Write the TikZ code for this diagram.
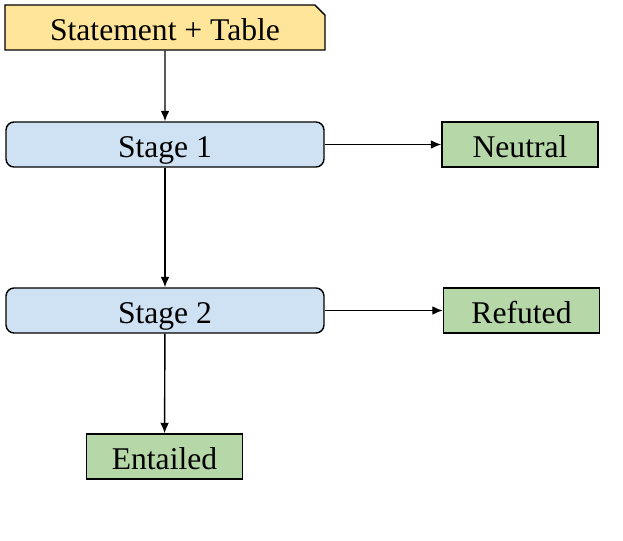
\documentclass[tikz,border=0pt]{standalone}
\usepackage{fontspec}
\setmainfont{Liberation Serif}
\usetikzlibrary{arrows.meta,shapes.misc}

\definecolor{inputyellow}{HTML}{FFE599}
\definecolor{stageblue}{HTML}{CFE2F3}
\definecolor{labelgreen}{HTML}{B6D7A8}

\begin{document}
\begin{tikzpicture}[
  x=0.02cm, y=-0.02cm,
  >={Latex[length=6pt,width=5pt]},
  box/.style={draw=black,line width=0.8pt,inner sep=0pt,font=\fontsize{18}{21}\selectfont,minimum height=0.9cm,text height=15pt,text depth=0pt},
  inputbox/.style={box,fill=inputyellow,chamfered rectangle,chamfered rectangle corners=north east,chamfered rectangle xsep=0.1cm,chamfered rectangle ysep=0.1cm,minimum width=6.4cm},
  stagebox/.style={box,fill=stageblue,rounded corners=0.16cm,minimum width=6.36cm},
  labelbox/.style={box,fill=labelgreen,minimum width=3.12cm},
  conn/.style={->,line width=0.8pt},
]
\useasboundingbox (0,0) rectangle (623,541);

% Input
\node[inputbox] (input) at (165,27.5) {Statement + Table};

% Stages
\node[stagebox] (stage1) at (165,144.5) {Stage 1};
\node[stagebox] (stage2) at (165,310.5) {Stage 2};

% Labels
\node[labelbox] (neutral) at (520,144.5) {Neutral};
\node[labelbox] (refuted) at (521.5,310.5) {Refuted};
\node[labelbox] (entailed) at (164.5,456.5) {Entailed};

% Connectors
\draw[conn] (input) -- (stage1);
\draw[conn] (stage1) -- (neutral);
\draw[conn] (stage1) -- (stage2);
\draw[conn] (stage2) -- (refuted);
\draw[conn] (stage2) -- (entailed);

\end{tikzpicture}
\end{document}
